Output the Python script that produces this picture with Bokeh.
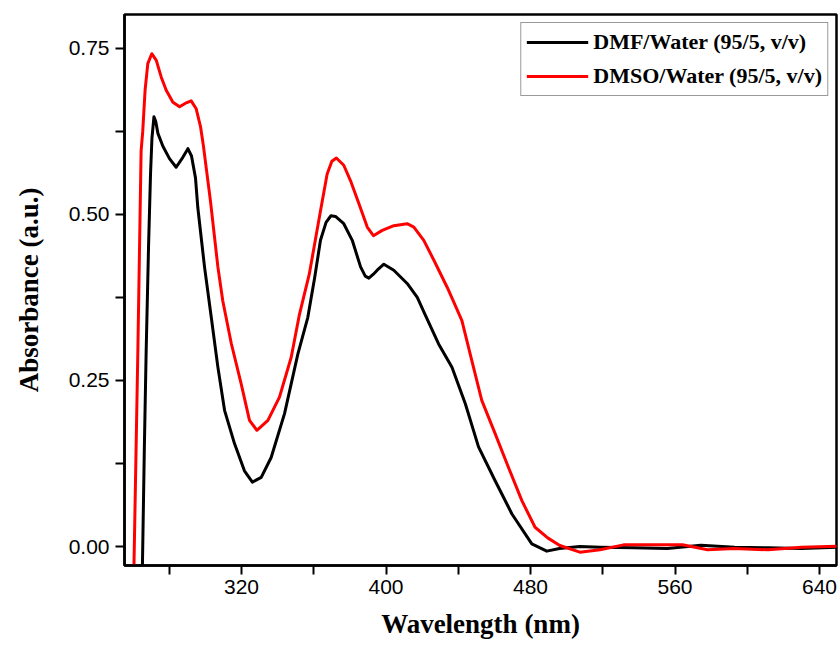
from bokeh.plotting import figure
from bokeh.models import FixedTicker, NumeralTickFormatter, Range1d, Legend, LegendItem
from bokeh.embed import file_html
from bokeh.resources import INLINE

# DMF/Water (95/5, v/v)
wl_dmf = [265.0, 266.2, 267.2, 268.5, 269.6, 270.4, 271.5, 272.5, 273.7, 276.4,
          280.1, 283.8, 287.5, 290.3, 292.3, 294.5, 295.8, 299.5, 303.2, 306.9,
          310.6, 316.1, 321.6, 326.0, 330.9, 336.4, 343.8, 351.2, 356.7, 360.5,
          363.7, 366.8, 369.5, 372.0, 376.6, 381.3, 385.9, 388.5, 390.5, 393.0,
          395.1, 398.8, 404.3, 411.7, 417.3, 421.5, 429.1, 436.5, 443.9, 451.2,
          460.4, 469.7, 480.7, 489.0, 496.0, 507.3, 518.5, 537.0, 555.7, 574.3,
          593.0, 611.5, 630.0, 650.0]
abs_dmf = [-0.05, 0.15, 0.295, 0.45, 0.56, 0.615, 0.647, 0.64, 0.622, 0.603,
           0.584, 0.571, 0.586, 0.599, 0.588, 0.555, 0.510, 0.421, 0.346, 0.270,
           0.205, 0.155, 0.114, 0.097, 0.104, 0.134, 0.200, 0.290, 0.345, 0.405,
           0.461, 0.488, 0.498, 0.497, 0.486, 0.461, 0.421, 0.407, 0.404, 0.410,
           0.416, 0.425, 0.416, 0.396, 0.375, 0.350, 0.305, 0.270, 0.215, 0.150,
           0.099, 0.049, 0.004, -0.007, -0.003, 0.0, -0.001, -0.002, -0.003, 0.002,
           -0.001, -0.002, -0.003, -0.001]

# DMSO/Water (95/5, v/v)
wl_dmso = [260.3, 262.6, 264.4, 265.3, 266.6, 268.1, 270.3, 272.8, 275.5, 278.3,
           282.0, 285.7, 289.4, 292.1, 294.9, 297.3, 298.8, 302.8, 306.9, 309.6,
           314.3, 319.8, 324.4, 328.5, 334.6, 341.0, 347.5, 352.1, 357.5, 363.7,
           367.4, 370.0, 372.5, 376.6, 380.3, 385.0, 389.6, 393.0, 397.9, 404.3,
           411.7, 415.4, 420.9, 426.5, 433.9, 438.0, 442.0, 447.5, 453.0, 460.4,
           467.8, 475.2, 482.5, 489.5, 496.2, 507.3, 518.5, 531.5, 546.4, 564.1,
           578.0, 593.0, 611.5, 630.0, 650.0]
abs_dmso = [-0.05, 0.295, 0.596, 0.625, 0.687, 0.727, 0.742, 0.732, 0.707, 0.687,
            0.669, 0.662, 0.668, 0.671, 0.659, 0.632, 0.605, 0.520, 0.421, 0.370,
            0.306, 0.245, 0.190, 0.175, 0.190, 0.225, 0.285, 0.350, 0.410, 0.505,
            0.561, 0.580, 0.585, 0.574, 0.551, 0.516, 0.481, 0.468, 0.476, 0.483,
            0.486, 0.481, 0.461, 0.431, 0.390, 0.365, 0.340, 0.280, 0.220, 0.170,
            0.119, 0.069, 0.029, 0.013, 0.0015, -0.0085, -0.005, 0.0025, 0.0025, 0.0025,
            -0.005, -0.003, -0.005, -0.001, 0.0005]

x_major = [320, 400, 480, 560, 640]
x_minor = [280, 360, 440, 520, 600]
y_major = [0.0, 0.25, 0.5, 0.75]
y_minor = [0.125, 0.375, 0.625]

p = figure(width=838, height=650, output_backend="svg", toolbar_location=None,
           x_range=Range1d(255.2, 649.4), y_range=Range1d(-0.0286, 0.801),
           min_border_left=124, min_border_top=14, min_border_right=2, min_border_bottom=85)
p.background_fill_color = "white"
p.border_fill_color = "white"
p.grid.visible = False
p.outline_line_color = "black"
p.outline_line_width = 2.5

r1 = p.line(wl_dmf, abs_dmf, line_color="black", line_width=3, line_join="round")
r2 = p.line(wl_dmso, abs_dmso, line_color="#ff0000", line_width=3, line_join="round")

for ax in (p.xaxis[0], p.yaxis[0]):
    ax.axis_line_width = 2.5
    ax.axis_line_color = "black"
    ax.major_tick_line_width = 2
    ax.minor_tick_line_width = 2
    ax.major_tick_in = 0
    ax.major_tick_out = 9
    ax.minor_tick_in = 0
    ax.minor_tick_out = 9
    ax.major_label_text_font = "Liberation Sans"
    ax.major_label_text_font_size = "21px"
    ax.major_label_text_color = "black"
    ax.axis_label_text_font = "Liberation Serif"
    ax.axis_label_text_font_style = "bold"
    ax.axis_label_text_font_size = "27px"
    ax.axis_label_text_color = "black"

p.xaxis[0].ticker = FixedTicker(ticks=x_major, minor_ticks=x_minor)
p.yaxis[0].ticker = FixedTicker(ticks=y_major, minor_ticks=y_minor)
p.yaxis[0].formatter = NumeralTickFormatter(format="0.00")
p.xaxis[0].axis_label = "Wavelength (nm)"
p.yaxis[0].axis_label = "Absorbance (a.u.)"
p.xaxis[0].major_label_standoff = 5
p.yaxis[0].major_label_standoff = 6
p.xaxis[0].axis_label_standoff = 12
p.yaxis[0].axis_label_standoff = 22

legend = Legend(items=[LegendItem(label="DMF/Water (95/5, v/v)", renderers=[r1]),
                       LegendItem(label="DMSO/Water (95/5, v/v)", renderers=[r2])],
                location="top_right")
legend.label_text_font = "Liberation Serif"
legend.label_text_font_style = "bold"
legend.label_text_font_size = "22px"
legend.label_text_color = "black"
legend.glyph_width = 62
legend.glyph_height = 28
legend.label_height = 28
legend.spacing = 6
legend.label_standoff = 5
legend.padding = 5
legend.margin = 8
legend.border_line_color = "#333333"
legend.border_line_width = 1.5
legend.background_fill_color = "white"
legend.background_fill_alpha = 1.0
p.add_layout(legend)

open("out.html", "w").write(file_html(p, INLINE))
